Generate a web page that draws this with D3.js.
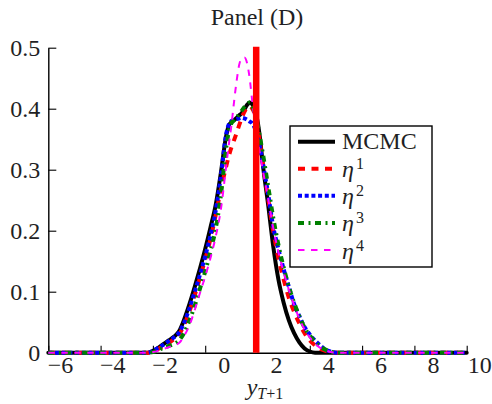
<!DOCTYPE html>
<html>
<head>
<meta charset="utf-8">
<script src="https://cdn.jsdelivr.net/npm/d3@7"></script>
<style>
  html, body { margin: 0; padding: 0; background: #fff; }
  svg { display: block; }
  text { font-family: "Liberation Serif", "Times New Roman", Times, Tinos, "Noto Serif", "DejaVu Serif", "FreeSerif", "Nimbus Roman", serif; fill: #1f1f24; }
</style>
</head>
<body>
<svg id="chart" width="492" height="404"></svg>
<script>
// Evaluation grid of the forecast densities for y_{T+1}
const grid = [-6, -2.2, -2.0, -1.8, -1.6, -1.4, -1.2, -1.0, -0.8, -0.6, -0.4, -0.2, 0, 0.2, 0.4, 0.6, 0.8, 0.9,
  1.0, 1.1, 1.2, 1.3, 1.4, 1.5, 1.6, 1.7, 1.8, 1.9, 2.0, 2.1, 2.2, 2.4, 2.6, 2.8, 3.0, 3.2, 3.4, 3.6, 3.8,
  4.0, 4.2, 4.4, 4.6, 4.8, 5.0, 10];

const mcmc = [0, 0, 0.003, 0.008, 0.014, 0.02, 0.026, 0.035, 0.055, 0.08, 0.108, 0.138, 0.17, 0.205, 0.242, 0.295, 0.355, 0.372,
  0.378, 0.381, 0.385, 0.389, 0.393, 0.399, 0.406, 0.41, 0.407, 0.398, 0.38, 0.35, 0.31, 0.245, 0.175, 0.12, 0.082, 0.053, 0.032, 0.017, 0.007,
  0.002, 0, 0, 0, 0, 0, 0];

const eta1 = [0, 0, 0.002, 0.006, 0.011, 0.016, 0.022, 0.03, 0.046, 0.068, 0.094, 0.123, 0.153, 0.186, 0.225, 0.268, 0.305, 0.322,
  0.336, 0.348, 0.36, 0.373, 0.385, 0.395, 0.401, 0.404, 0.4, 0.39, 0.37, 0.342, 0.312, 0.255, 0.2, 0.155, 0.12, 0.09, 0.067, 0.048, 0.032,
  0.02, 0.012, 0.006, 0.003, 0.001, 0, 0];

const eta2 = [0, 0, 0.003, 0.008, 0.013, 0.019, 0.025, 0.033, 0.05, 0.073, 0.1, 0.128, 0.158, 0.192, 0.232, 0.29, 0.358, 0.374,
  0.38, 0.382, 0.383, 0.384, 0.385, 0.384, 0.382, 0.379, 0.376, 0.368, 0.355, 0.335, 0.312, 0.262, 0.207, 0.17, 0.137, 0.108, 0.08, 0.06, 0.042,
  0.03, 0.02, 0.012, 0.005, 0.002, 0, 0];

const eta3 = [0, 0, 0.001, 0.004, 0.008, 0.011, 0.014, 0.02, 0.033, 0.053, 0.077, 0.105, 0.133, 0.166, 0.203, 0.258, 0.335, 0.362,
  0.376, 0.381, 0.386, 0.391, 0.397, 0.403, 0.408, 0.41, 0.405, 0.392, 0.375, 0.352, 0.328, 0.275, 0.222, 0.177, 0.14, 0.108, 0.082, 0.06, 0.041,
  0.028, 0.018, 0.01, 0.005, 0.002, 0, 0];

const eta4 = [0, 0, 0.001, 0.003, 0.006, 0.009, 0.012, 0.016, 0.028, 0.045, 0.07, 0.098, 0.125, 0.155, 0.19, 0.235, 0.305, 0.34,
  0.372, 0.41, 0.445, 0.472, 0.483, 0.484, 0.475, 0.45, 0.412, 0.378, 0.35, 0.325, 0.3, 0.255, 0.205, 0.165, 0.132, 0.103, 0.078, 0.056, 0.038,
  0.025, 0.015, 0.008, 0.004, 0.001, 0, 0];

// Realised value of y_{T+1}
const realized = 1.95;

const xTicks = [-6, -4, -2, 0, 2, 4, 6, 8, 10];
const yTicks = [0, 0.1, 0.2, 0.3, 0.4, 0.5];
const yTickLabels = ["0", "0.1", "0.2", "0.3", "0.4", "0.5"];
const seriesNames = ["MCMC", "1", "2", "3", "4"];

const svg = d3.select("#chart");
const x = d3.scaleLinear().domain([-6, 10]).range([48.3, 466.7]);
const y = d3.scaleLinear().domain([0, 0.5]).range([352.7, 47.7]);

// Line styles for each density
const styles = [
  { values: mcmc, color: "#000000", width: 4, dash: null, cap: "round" },
  { values: eta1, color: "#ff0000", width: 4, dash: "7,6.5", cap: "butt" },
  { values: eta2, color: "#0000ff", width: 4, dash: "4,2.7", cap: "butt" },
  { values: eta3, color: "#008000", width: 4, dash: "6,4.5,2,4.5", cap: "butt" },
  { values: eta4, color: "#ff00ff", width: 2, dash: "6.5,6.5", cap: "butt" }
];

// Axes
const xAxis = d3.axisBottom(x).tickValues(xTicks).tickSize(-7).tickSizeOuter(0);
const gx = svg.append("g").attr("transform", `translate(0,${y(0)})`).call(xAxis);
gx.attr("font-family", null);
gx.select(".domain").attr("stroke", "#000").attr("stroke-width", 1.4);
gx.selectAll(".tick line").attr("stroke", "#000").attr("stroke-width", 1.1);
gx.selectAll(".tick text")
  .attr("font-size", 24)
  .attr("text-anchor", "end").attr("x", 24.5).attr("y", 3).attr("fill", "#1f1f24");

const yAxis = d3.axisLeft(y).tickValues(yTicks).tickSize(-8).tickSizeOuter(0).tickPadding(8)
  .tickFormat((d, i) => yTickLabels[i]);
const gy = svg.append("g").attr("transform", `translate(${x(-6)},0)`).call(yAxis);
gy.attr("font-family", null);
gy.select(".domain").attr("stroke", "#000").attr("stroke-width", 1.4);
gy.selectAll(".tick line").attr("stroke", "#000").attr("stroke-width", 1.1);
gy.selectAll(".tick text").attr("font-size", 24).attr("fill", "#1f1f24");

// Density curves
const line = d3.line()
  .x((d, i) => x(grid[i]))
  .y(d => y(d))
  .curve(d3.curveMonotoneX);

svg.append("g").selectAll("path")
  .data(styles)
  .join("path")
  .attr("d", s => line(s.values))
  .attr("fill", "none")
  .attr("stroke", s => s.color)
  .attr("stroke-width", s => s.width)
  .attr("stroke-dasharray", s => s.dash)
  .attr("stroke-linecap", s => s.cap)
  .attr("stroke-linejoin", "round");

// Realised value marker
svg.append("line")
  .attr("x1", x(realized)).attr("x2", x(realized))
  .attr("y1", y(0)).attr("y2", y(0.5) - 1)
  .attr("stroke", "#ff0000").attr("stroke-width", 6.5);

// Title
svg.append("text")
  .attr("x", 257).attr("y", 25)
  .attr("text-anchor", "middle")
  .attr("font-size", 24)
  .text("Panel (D)");

// x-axis label y_{T+1}
const xl = svg.append("text")
  .attr("x", 265).attr("y", 395)
  .attr("text-anchor", "middle")
  .attr("font-size", 24);
xl.append("tspan").attr("font-style", "italic").text("y");
xl.append("tspan").attr("font-size", 16).attr("font-style", "italic").attr("dy", 4).text("T");
xl.append("tspan").attr("font-size", 16).text("+1");

// Legend
const lg = svg.append("g");
lg.append("rect")
  .attr("x", 290).attr("y", 126).attr("width", 142).attr("height", 141)
  .attr("fill", "#fff").attr("stroke", "#000").attr("stroke-width", 1.4);

const rowY = d3.scalePoint().domain(d3.range(styles.length)).range([141.7, 250]);
styles.forEach((s, i) => {
  const ry = rowY(i);
  lg.append("line")
    .attr("x1", 298).attr("x2", 335).attr("y1", ry).attr("y2", ry)
    .attr("stroke", s.color).attr("stroke-width", s.width)
    .attr("stroke-dasharray", s.dash).attr("stroke-linecap", "butt");
  if (i === 0) {
    lg.append("text").attr("x", 342).attr("y", ry + 7.5).attr("font-size", 24).text(seriesNames[i]);
  } else {
    const t = lg.append("text").attr("x", 342).attr("y", ry + 8.5).attr("font-size", 24);
    t.append("tspan").attr("font-style", "italic").text("η");
    t.append("tspan").attr("font-size", 16).attr("dy", -8).attr("dx", 2).text(seriesNames[i]);
  }
});
</script>
</body>
</html>
